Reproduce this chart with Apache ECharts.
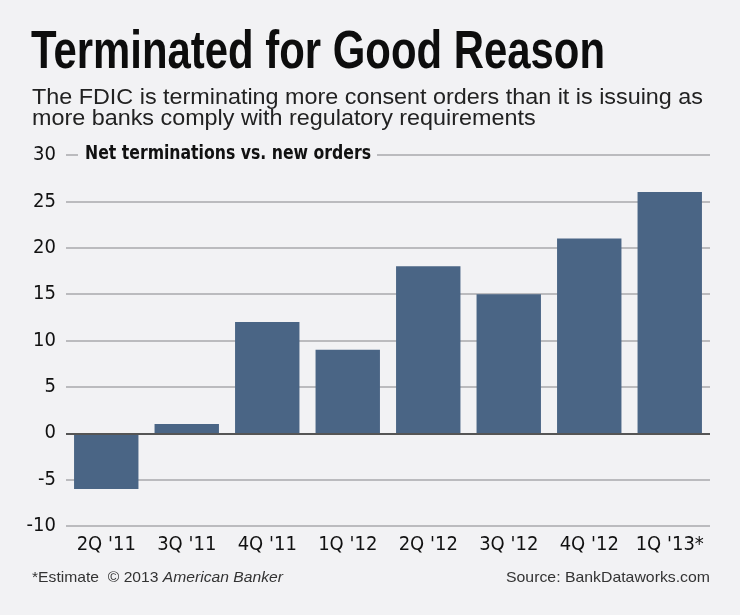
<!DOCTYPE html>
<html><head><meta charset="utf-8">
<script src="https://cdn.jsdelivr.net/npm/echarts@6/dist/echarts.min.js"></script>
<style>html,body{margin:0;padding:0;background:#f2f2f4}#c{width:740px;height:615px}</style>
</head><body><div id="c"></div>
<script>
const categories = ["2Q '11", "3Q '11", "4Q '11", "1Q '12", "2Q '12", "3Q '12", "4Q '12", "1Q '13*"];
const netTerminations = [-6, 1, 12, 9, 18, 15, 21, 26];
const yTicks = [-10, -5, 0, 5, 10, 15, 20, 25, 30];

const narrow = '"DejaVu Sans Condensed", sans-serif';
const sans = '"Liberation Sans", Arial, sans-serif';
const bg = '#f2f2f4';
const ctx = document.createElement('canvas').getContext('2d');
function w(font, text) { ctx.font = font; return ctx.measureText(text).width; }

// text block: fits a text into a target width by horizontal scaling
function fitText(text, font, x, y, targetW, color, extra) {
  const s = targetW / w(font, text);
  return Object.assign({ type: 'text', x: x, y: y, scaleX: s, z: 100,
    style: { text: text, font: font, fill: color, x: 0, y: 0, verticalAlign: 'top', align: 'left' } }, extra || {});
}

const titleFont = 'bold 54px ' + sans;
const subFont = '22px ' + sans;
const noteFont = 'bold 19px ' + narrow;
const footFont = '15px ' + sans;
const footItal = 'italic 15px ' + sans;
const sub1 = 'The FDIC is terminating more consent orders than it is issuing as';
const sub2 = 'more banks comply with regulatory requirements';

const chart = echarts.init(document.getElementById('c'));
const footA = '*Estimate  © 2013 ', footB = 'American Banker';
const footScale = 251 / (w(footFont, footA) + w(footItal, footB));

chart.setOption({
  backgroundColor: bg,
  animation: false,
  graphic: [
    fitText('Terminated for Good Reason', titleFont, 31, 26, 574, '#0d0d0d'),
    fitText(sub1, subFont, 32, 87, 671, '#222'),
    fitText(sub2, subFont, 32, 108, 671 * w(subFont, sub2) / w(subFont, sub1), '#222'),
    { type: 'rect', shape: { x: 78, y: 146, width: 299, height: 20 }, style: { fill: bg }, z: 90 },
    fitText('Net terminations vs. new orders', noteFont, 85, 145, 286, '#111'),
    { type: 'text', x: 32, y: 570, scaleX: footScale, z: 100,
      style: { text: '{a|' + footA + '}{b|' + footB + '}', fill: '#333', x: 0, y: 0, verticalAlign: 'top',
        rich: { a: { font: footFont, fill: '#333' }, b: { font: footItal, fill: '#333' } } } },
    fitText('Source: BankDataworks.com', footFont, 506, 570, 204, '#333')
  ],
  grid: { left: 66, right: 30, top: 155, bottom: 89, containLabel: false },
  xAxis: {
    type: 'category', data: categories,
    axisLine: { show: false }, axisTick: { show: false },
    axisLabel: { interval: 0, fontFamily: narrow, fontWeight: 500, fontSize: 20, color: '#111', margin: 9 }
  },
  yAxis: {
    type: 'value', min: yTicks[0], max: yTicks[yTicks.length - 1], interval: 5,
    axisLine: { show: false }, axisTick: { show: false },
    axisLabel: { fontFamily: narrow, fontWeight: 500, fontSize: 20, color: '#111', margin: 10 },
    splitLine: { lineStyle: { color: '#a8a8ac', width: 1.5 } }
  },
  series: [{
    type: 'bar', data: netTerminations, barCategoryGap: '20%',
    itemStyle: { color: '#4a6585' },
    markLine: { silent: true, symbol: 'none', label: { show: false },
      lineStyle: { color: '#555', width: 2, type: 'solid' }, data: [{ yAxis: 0 }] }
  }]
});
</script></body></html>
